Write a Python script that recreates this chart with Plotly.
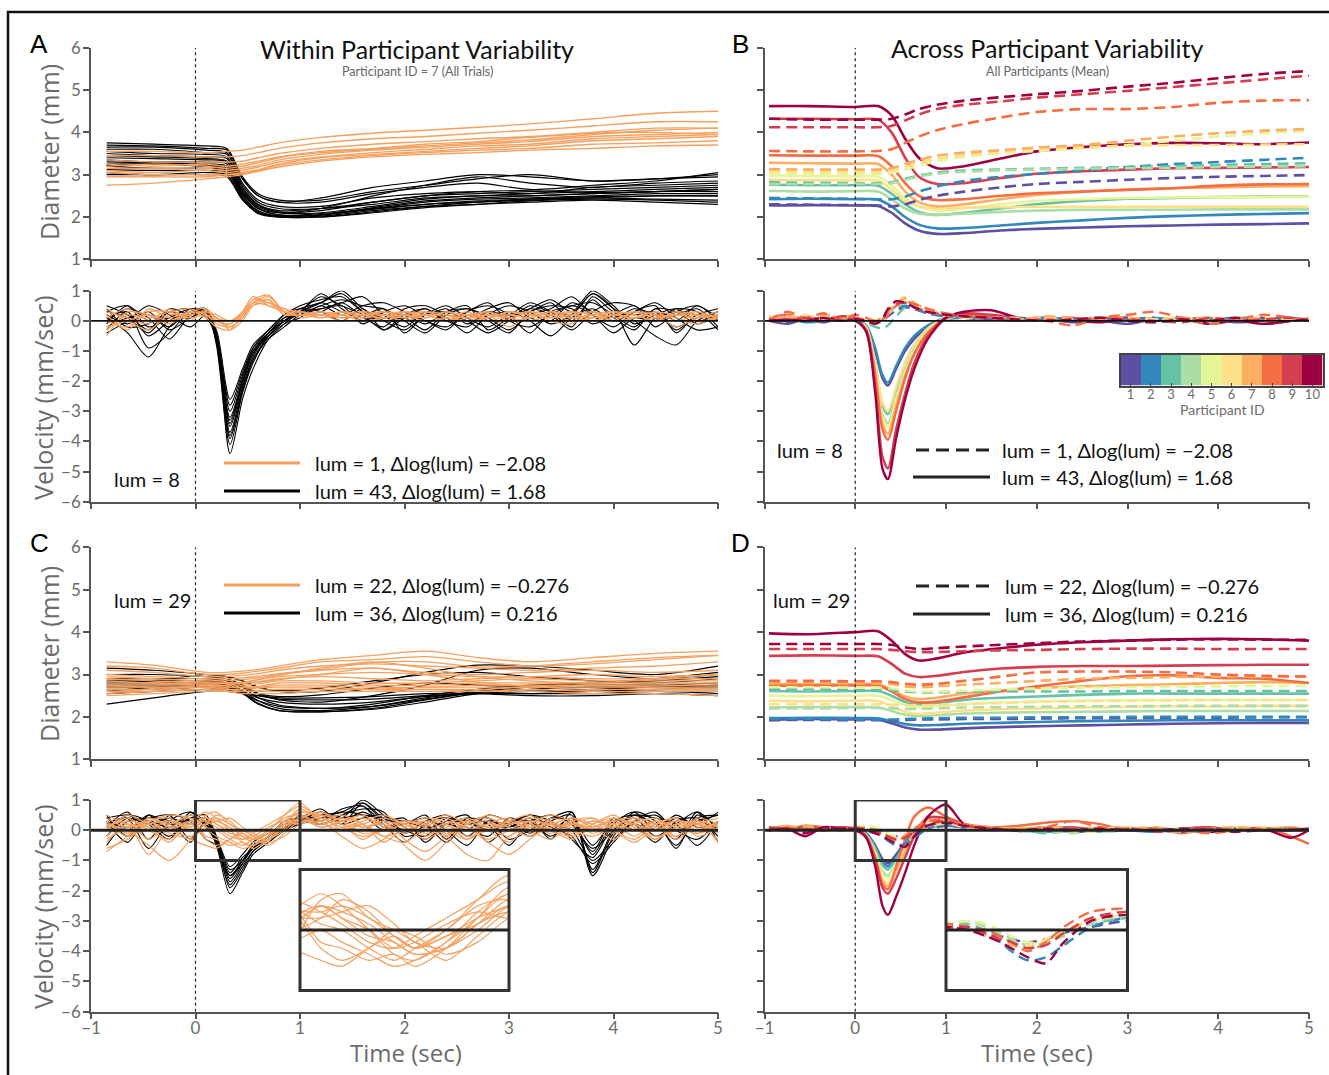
import plotly.graph_objects as go

W, H = 1329, 1075

# ---------------- data ----------------
TIME_TICKS = [-1, 0, 1, 2, 3, 4, 5]
DIAM_TICKS = [1, 2, 3, 4, 5, 6]
VEL_TICKS = [1, 0, -1, -2, -3, -4, -5, -6]
PARTICIPANT_IDS = [1, 2, 3, 4, 5, 6, 7, 8, 9, 10]
PARTICIPANT_COLORS = ['#5e4fa2', '#3288bd', '#66c2a5', '#abdda4', '#e6f598',
                      '#fee08b', '#fdae61', '#f46d43', '#d53e4f', '#9e0142']
ORANGE = '#F5A05F'
BLACK = '#000000'

# time samples (sec)
DIAM_T = [-0.85, -0.4, 0.1, 0.3, 0.45, 0.6, 0.8, 1.2, 1.7, 2.2, 2.7, 3.2, 3.8, 4.4, 5.0]
MEAN_T = [-0.95, -0.5, 0, 0.25, 0.4, 0.55, 0.7, 0.9, 1.2, 1.6, 2.0, 2.5, 3.0, 3.5, 4.0, 4.5, 5.0]
VEL_T = [-0.85, -0.65, -0.45, -0.25, -0.05,
         0.1, 0.2, 0.33, 0.45, 0.55, 0.7, 0.85, 1.0,
         1.2, 1.4, 1.6, 1.8, 2.0,
         2.2, 2.4, 2.6, 2.8, 3.0,
         3.2, 3.4, 3.6, 3.8, 4.0,
         4.2, 4.4, 4.6, 4.8, 5.0]
MVEL_T = [-0.95, -0.75, -0.55, -0.35, -0.15, 0,
          0.12, 0.22, 0.3, 0.36, 0.45, 0.55, 0.65, 0.8,
          1.0, 1.2, 1.5, 1.8, 2.1,
          2.4, 2.7, 3.0, 3.3, 3.6,
          3.9, 4.2, 4.5, 4.8, 5.0]

# ---- Panel A: participant 7, diameter (mm)
A_DIAM_BLACK = [
    [3.75, 3.72, 3.68, 3.62, 2.95, 2.55, 2.4, 2.4, 2.6, 2.75, 2.9, 3.0, 2.85, 2.9, 3.0],
    [3.7, 3.68, 3.62, 3.58, 2.9, 2.5, 2.35, 2.35, 2.55, 2.7, 2.8, 2.65, 2.75, 2.85, 3.05],
    [3.6, 3.6, 3.52, 3.48, 2.8, 2.4, 2.25, 2.25, 2.45, 2.55, 2.6, 2.55, 2.7, 2.75, 2.8],
    [3.55, 3.5, 3.48, 3.42, 2.75, 2.35, 2.2, 2.2, 2.35, 2.5, 2.55, 2.6, 2.65, 2.7, 2.75],
    [3.5, 3.45, 3.42, 3.38, 2.7, 2.3, 2.15, 2.2, 2.3, 2.45, 2.5, 2.55, 2.6, 2.65, 2.7],
    [3.45, 3.42, 3.38, 3.32, 2.65, 2.28, 2.12, 2.15, 2.35, 2.5, 2.6, 2.62, 2.58, 2.6, 2.65],
    [3.4, 3.38, 3.35, 3.3, 2.62, 2.25, 2.1, 2.1, 2.25, 2.42, 2.5, 2.5, 2.55, 2.6, 2.6],
    [3.35, 3.3, 3.3, 3.25, 2.6, 2.22, 2.05, 2.08, 2.2, 2.35, 2.42, 2.45, 2.5, 2.55, 2.55],
    [3.3, 3.28, 3.25, 3.2, 2.55, 2.2, 2.05, 2.05, 2.2, 2.3, 2.38, 2.42, 2.45, 2.5, 2.5],
    [3.25, 3.25, 3.2, 3.15, 2.5, 2.15, 2.02, 2.05, 2.18, 2.3, 2.35, 2.4, 2.45, 2.42, 2.4],
    [3.2, 3.15, 3.15, 3.1, 2.5, 2.12, 2.0, 2.02, 2.15, 2.25, 2.3, 2.35, 2.4, 2.35, 2.3],
    [3.12, 3.1, 3.1, 3.05, 2.45, 2.1, 2.0, 2.0, 2.1, 2.22, 2.3, 2.38, 2.42, 2.4, 2.35],
    [3.05, 3.0, 3.05, 3.0, 2.42, 2.08, 2.0, 2.0, 2.12, 2.25, 2.35, 2.42, 2.48, 2.5, 2.5],
    [3.0, 3.0, 3.0, 2.95, 2.4, 2.1, 2.02, 2.05, 2.22, 2.38, 2.45, 2.5, 2.55, 2.6, 2.65],
    [3.65, 3.65, 3.58, 3.52, 2.9, 2.5, 2.35, 2.45, 2.7, 2.85, 3.0, 2.95, 2.85, 2.9, 2.95],
    [3.22, 3.25, 3.2, 3.18, 2.55, 2.2, 2.1, 2.2, 2.5, 2.75, 2.95, 2.8, 2.7, 2.8, 2.85],
]
A_DIAM_ORANGE = [
    [3.55, 3.55, 3.52, 3.55, 3.58, 3.65, 3.75, 3.88, 3.98, 4.05, 4.12, 4.2, 4.32, 4.45, 4.5],
    [3.45, 3.45, 3.42, 3.42, 3.45, 3.52, 3.62, 3.75, 3.85, 3.9, 3.98, 4.05, 4.15, 4.25, 4.25],
    [3.35, 3.3, 3.3, 3.3, 3.32, 3.4, 3.5, 3.62, 3.72, 3.78, 3.85, 3.9, 4.0, 4.1, 4.1],
    [3.2, 3.25, 3.2, 3.15, 3.2, 3.28, 3.4, 3.52, 3.6, 3.68, 3.75, 3.82, 3.95, 4.05, 4.1],
    [3.15, 3.15, 3.15, 3.1, 3.15, 3.22, 3.35, 3.48, 3.58, 3.65, 3.72, 3.78, 3.9, 3.95, 4.0],
    [3.1, 3.05, 3.1, 3.05, 3.1, 3.18, 3.3, 3.42, 3.52, 3.6, 3.68, 3.72, 3.85, 3.9, 3.95],
    [3.05, 3.0, 3.0, 3.0, 3.05, 3.12, 3.25, 3.4, 3.48, 3.55, 3.62, 3.68, 3.8, 3.85, 3.9],
    [2.95, 2.95, 2.95, 3.0, 3.02, 3.1, 3.22, 3.35, 3.45, 3.52, 3.58, 3.62, 3.72, 3.75, 3.8],
    [2.75, 2.8, 2.9, 2.95, 3.0, 3.08, 3.18, 3.32, 3.42, 3.48, 3.52, 3.58, 3.62, 3.68, 3.7],
    [3.25, 3.2, 3.25, 3.2, 3.25, 3.32, 3.42, 3.55, 3.62, 3.72, 3.78, 3.88, 3.98, 4.0, 3.95],
]

# ---- Panel A: velocity (mm/sec)
A_VEL_BLACK = [
    [0.3, 0.5, -0.2, 0.1, 0.4, 0.3, -0.6, -4.4, -2.6, -1.6, -0.6, -0.1, 0.3, 0.8, 0.5, 0.2, -0.3, 0.2, 0.4, 0.0, -0.2, 0.3, 0.1, 0.5, 0.3, 0.2, 0.9, 0.4, -0.8, 0.1, 0.3, 0.2, 0.1],
    [0.1, -0.4, -1.2, -0.2, 0.3, 0.4, -0.8, -4.1, -2.4, -1.4, -0.5, 0.0, 0.4, 0.6, 0.9, 0.3, 0.0, -0.3, 0.2, 0.5, 0.1, -0.2, 0.2, 0.3, 0.6, 0.0, 0.7, 0.1, 0.4, 0.2, -0.2, 0.1, 0.3],
    [0.5, 0.2, -0.3, 0.4, 0.2, 0.3, -0.7, -3.9, -2.3, -1.3, -0.6, -0.2, 0.2, 0.5, 0.7, 0.5, 0.4, 0.0, -0.4, 0.2, 0.4, 0.1, -0.3, 0.2, 0.4, 0.8, 0.2, -0.2, 0.3, 0.5, -0.4, 0.2, 0.0],
    [-0.3, 0.3, -0.9, -0.4, 0.3, 0.2, -0.5, -3.7, -2.2, -1.2, -0.4, 0.1, 0.3, 0.9, 0.4, 0.0, 0.3, 0.2, 0.0, -0.3, 0.3, 0.5, 0.2, -0.4, 0.3, 0.5, 0.6, 0.2, -0.2, 0.4, 0.3, -0.1, 0.2],
    [0.2, -0.1, 0.3, -0.3, 0.1, 0.3, -0.6, -3.5, -2.1, -1.1, -0.5, 0.0, 0.2, 0.4, 0.6, 0.8, 0.2, -0.2, 0.3, 0.1, -0.4, 0.2, 0.5, 0.3, -0.1, 0.2, 0.9, 0.4, 0.0, -0.5, -0.8, 0.0, 0.3],
    [0.0, 0.4, 0.1, -0.6, 0.2, 0.4, -0.4, -3.4, -2.0, -1.0, -0.4, 0.1, 0.3, 0.6, 0.3, 0.1, -0.2, 0.4, 0.5, 0.2, 0.0, -0.4, 0.0, 0.4, 0.2, -0.3, 0.3, 0.6, 0.5, 0.1, 0.2, 0.4, -0.2],
    [-0.4, 0.0, 0.5, 0.2, -0.2, 0.2, -0.7, -3.2, -1.9, -0.9, -0.3, 0.2, 0.5, 0.7, 0.8, 0.3, 0.0, 0.1, -0.3, 0.3, 0.4, 0.2, 0.3, 0.0, -0.5, 0.1, 0.4, 0.0, 0.3, 0.6, 0.1, -0.3, -0.2],
    [0.4, -0.2, -0.1, 0.3, 0.4, 0.1, -0.5, -3.0, -1.8, -1.0, -0.5, -0.1, 0.1, 0.5, 0.2, 0.5, 0.6, 0.3, 0.0, -0.2, 0.2, 0.0, -0.4, 0.3, 0.5, 0.4, -0.1, 0.2, 0.5, -0.2, 0.3, 0.5, 0.1],
    [0.1, 0.3, -0.5, 0.0, 0.3, 0.3, -0.4, -2.8, -1.7, -0.9, -0.4, 0.0, 0.3, 0.4, 0.5, -0.1, 0.3, 0.5, 0.2, 0.4, -0.1, 0.3, 0.2, 0.6, 0.3, -0.2, 0.8, 0.3, 0.2, 0.3, -0.3, 0.2, 0.4],
    [-0.2, 0.1, 0.2, -0.2, 0.4, 0.2, -0.3, -2.6, -1.6, -0.8, -0.3, 0.2, 0.4, 0.3, 0.0, 0.4, -0.3, 0.1, 0.4, 0.0, 0.3, 0.6, 0.0, -0.2, 0.2, 0.5, 0.2, -0.4, 0.1, 0.0, 0.4, 0.3, -0.3],
    [0.3, 0.1, -0.4, 0.3, 0.1, 0.4, -0.6, -3.8, -2.3, -1.3, -0.5, 0.0, 0.3, 0.6, 1.0, 0.4, 0.1, 0.2, -0.1, 0.3, 0.5, -0.3, 0.1, 0.4, 0.7, 0.3, 1.0, 0.5, -0.1, 0.2, 0.4, 0.0, 0.2],
    [-0.1, 0.5, 0.0, 0.1, 0.2, 0.3, -0.5, -3.3, -2.0, -1.1, -0.4, 0.0, 0.2, 0.3, 0.6, 0.2, 0.4, -0.4, 0.2, 0.3, 0.1, 0.4, 0.6, 0.1, 0.0, 0.6, 0.3, 0.1, -0.3, 0.4, 0.0, 0.5, 0.0],
]
A_VEL_ORANGE = [
    [0.2, -0.3, 0.4, 0.1, 0.3, 0.1, -0.2, -0.3, 0.2, 0.7, 0.6, 0.3, 0.2, 0.3, 0.1, 0.2, 0.3, 0.1, 0.2, 0.0, 0.2, 0.1, 0.3, 0.2, 0.1, 0.3, 0.2, 0.0, 0.3, 0.1, 0.2, 0.1, 0.2],
    [-0.3, 0.2, 0.1, 0.3, 0.4, 0.2, 0.0, -0.1, 0.3, 0.8, 0.5, 0.3, 0.3, 0.2, 0.3, 0.1, 0.2, 0.3, 0.1, 0.3, 0.2, 0.3, 0.0, 0.1, 0.3, 0.2, 0.1, 0.2, 0.1, 0.3, 0.0, 0.2, 0.1],
    [0.4, 0.0, -0.3, 0.2, 0.2, 0.3, 0.1, -0.2, 0.1, 0.6, 0.7, 0.2, 0.2, 0.1, 0.2, 0.3, 0.0, 0.2, 0.3, 0.1, 0.0, 0.2, 0.2, 0.3, 0.0, -0.1, 0.3, 0.1, 0.2, 0.0, 0.3, 0.2, 0.0],
    [-0.5, 0.3, 0.2, -0.1, 0.3, 0.4, 0.0, -0.1, 0.2, 0.5, 0.6, 0.4, 0.3, 0.2, 0.1, 0.2, 0.2, 0.0, 0.2, 0.2, 0.1, 0.3, 0.1, 0.0, 0.2, 0.3, 0.0, 0.2, 0.3, 0.2, -0.2, 0.1, 0.3],
    [0.1, 0.4, 0.0, 0.0, 0.2, 0.3, 0.2, 0.0, 0.3, 0.7, 0.85, 0.3, 0.2, 0.3, 0.2, 0.1, 0.3, 0.2, 0.0, 0.1, 0.3, 0.0, 0.2, 0.1, 0.3, 0.1, 0.2, 0.3, 0.0, 0.1, 0.2, 0.3, 0.1],
    [0.0, -0.2, 0.3, 0.3, 0.1, 0.2, 0.1, -0.3, 0.0, 0.5, 0.7, 0.2, 0.3, 0.1, 0.3, 0.2, 0.1, 0.3, 0.2, 0.0, 0.2, 0.2, -0.2, 0.2, 0.1, 0.2, 0.3, 0.0, 0.1, 0.2, 0.1, -0.1, 0.2],
    [0.3, 0.1, -0.1, 0.4, 0.0, 0.4, 0.1, 0.0, 0.2, 0.6, 0.5, 0.4, 0.1, 0.2, 0.0, 0.3, 0.2, 0.1, 0.3, 0.2, 0.0, 0.1, 0.3, 0.2, 0.2, 0.0, 0.1, 0.3, 0.2, 0.0, 0.3, 0.0, 0.1],
    [-0.2, 0.0, 0.2, 0.0, 0.3, 0.2, -0.1, -0.2, 0.1, 0.6, 0.8, 0.3, 0.2, 0.2, 0.2, 0.0, 0.1, 0.2, 0.1, 0.3, 0.1, 0.2, 0.1, 0.3, 0.2, 0.1, 0.0, 0.2, 0.1, 0.3, 0.2, 0.2, 0.0],
]

# ---- Panel B: participant means, diameter (index = participant ID - 1)
B_DIAM_SOLID = [
    [2.27, 2.28, 2.27, 2.26, 2.1, 1.85, 1.68, 1.6, 1.62, 1.68, 1.72, 1.75, 1.78, 1.8, 1.82, 1.83, 1.85],
    [2.42, 2.43, 2.42, 2.41, 2.25, 2.0, 1.82, 1.73, 1.74, 1.8, 1.86, 1.92, 1.98, 2.02, 2.05, 2.07, 2.09],
    [2.76, 2.75, 2.75, 2.74, 2.55, 2.3, 2.12, 2.05, 2.1, 2.2, 2.3, 2.38, 2.43, 2.45, 2.47, 2.48, 2.49],
    [2.62, 2.6, 2.61, 2.6, 2.42, 2.2, 2.08, 2.05, 2.08, 2.12, 2.15, 2.17, 2.17, 2.17, 2.18, 2.18, 2.18],
    [2.98, 2.97, 2.96, 2.95, 2.75, 2.45, 2.25, 2.15, 2.2, 2.3, 2.38, 2.42, 2.45, 2.46, 2.47, 2.47, 2.48],
    [2.88, 2.87, 2.87, 2.86, 2.65, 2.38, 2.25, 2.2, 2.22, 2.23, 2.24, 2.24, 2.24, 2.24, 2.24, 2.24, 2.24],
    [3.28, 3.27, 3.26, 3.25, 3.0, 2.6, 2.35, 2.25, 2.3, 2.42, 2.52, 2.6, 2.65, 2.68, 2.7, 2.72, 2.73],
    [3.46, 3.45, 3.45, 3.44, 3.2, 2.8, 2.5, 2.4, 2.42, 2.5, 2.56, 2.6, 2.64, 2.68, 2.74, 2.77, 2.78],
    [4.32, 4.32, 4.31, 4.3, 4.0, 3.4, 2.95, 2.78, 2.8, 2.92, 3.02, 3.08, 3.12, 3.15, 3.16, 3.17, 3.18],
    [4.62, 4.62, 4.6, 4.62, 4.4, 3.85, 3.4, 3.15, 3.2, 3.38, 3.55, 3.65, 3.72, 3.75, 3.74, 3.72, 3.76],
]
B_DIAM_DASHED = [
    [2.3, 2.29, 2.28, 2.27, 2.25, 2.3, 2.4, 2.5, 2.6, 2.7, 2.78, 2.83, 2.88, 2.92, 2.95, 2.97, 2.99],
    [2.45, 2.44, 2.43, 2.42, 2.42, 2.48, 2.6, 2.72, 2.85, 2.95, 3.02, 3.1, 3.18, 3.25, 3.3, 3.35, 3.4],
    [2.82, 2.81, 2.8, 2.8, 2.82, 2.9, 2.98, 3.05, 3.1, 3.12, 3.14, 3.16, 3.18, 3.2, 3.23, 3.25, 3.27],
    [2.78, 2.78, 2.78, 2.78, 2.8, 2.88, 2.96, 3.02, 3.07, 3.1, 3.12, 3.14, 3.15, 3.16, 3.18, 3.19, 3.2],
    [3.03, 3.02, 3.02, 3.02, 3.05, 3.12, 3.22, 3.32, 3.42, 3.5, 3.56, 3.62, 3.7, 3.8, 3.9, 3.98, 4.03],
    [3.08, 3.07, 3.07, 3.07, 3.1, 3.18, 3.28, 3.38, 3.46, 3.55, 3.6, 3.65, 3.68, 3.7, 3.7, 3.71, 3.72],
    [3.13, 3.12, 3.12, 3.12, 3.15, 3.25, 3.35, 3.45, 3.52, 3.58, 3.64, 3.7, 3.8, 3.9, 3.98, 4.04, 4.08],
    [3.56, 3.55, 3.55, 3.56, 3.6, 3.75, 3.9, 4.05, 4.2, 4.35, 4.48, 4.55, 4.55, 4.6, 4.7, 4.75, 4.76],
    [4.12, 4.12, 4.12, 4.12, 4.15, 4.28, 4.42, 4.55, 4.65, 4.73, 4.82, 4.9, 4.98, 5.07, 5.16, 5.25, 5.34],
    [4.32, 4.3, 4.3, 4.3, 4.32, 4.42, 4.55, 4.65, 4.75, 4.83, 4.9, 4.98, 5.08, 5.17, 5.28, 5.38, 5.45],
]

# ---- Panel B: participant means, velocity
B_VEL_SOLID = [
    [0.0, -0.1, 0.05, -0.05, 0.1, 0.0, -0.2, -1.0, -1.9, -2.15, -1.6, -1.0, -0.6, -0.2, 0.05, 0.1, 0.05, 0.0, 0.05, -0.05, 0.0, -0.1, 0.05, 0.0, 0.05, -0.05, 0.0, 0.05, 0.0],
    [0.05, 0.1, -0.05, 0.0, 0.05, 0.05, -0.15, -0.9, -1.8, -2.05, -1.5, -0.9, -0.5, -0.15, 0.1, 0.1, 0.05, 0.1, 0.0, 0.05, 0.1, 0.0, 0.1, 0.0, 0.05, 0.0, 0.05, 0.1, 0.05],
    [0.1, 0.0, 0.05, 0.1, 0.0, 0.05, -0.2, -1.4, -2.8, -3.1, -2.3, -1.4, -0.8, -0.25, 0.05, 0.15, 0.1, 0.05, 0.1, 0.0, 0.05, 0.1, 0.0, 0.05, 0.0, 0.1, 0.05, 0.0, 0.05],
    [0.0, 0.05, 0.1, 0.0, 0.05, 0.0, -0.25, -1.5, -3.1, -3.4, -2.5, -1.6, -0.9, -0.3, 0.05, 0.15, 0.1, 0.05, 0.0, 0.05, 0.1, 0.0, 0.05, 0.1, 0.0, 0.05, 0.0, 0.05, 0.0],
    [0.1, 0.05, 0.0, 0.05, 0.1, 0.05, -0.25, -1.6, -3.2, -3.55, -2.6, -1.7, -1.0, -0.35, 0.05, 0.2, 0.1, 0.1, 0.05, 0.0, 0.1, 0.05, 0.0, 0.05, 0.1, 0.0, 0.05, 0.0, 0.1],
    [0.05, 0.0, 0.1, 0.05, 0.0, 0.1, -0.2, -1.4, -2.7, -3.0, -2.2, -1.4, -0.8, -0.25, 0.1, 0.15, 0.1, 0.05, 0.1, 0.05, 0.0, 0.1, 0.05, 0.0, 0.1, 0.05, 0.0, 0.05, 0.0],
    [0.0, 0.1, 0.05, 0.0, 0.1, 0.05, -0.3, -1.7, -3.4, -3.75, -2.8, -1.8, -1.1, -0.4, 0.05, 0.2, 0.15, 0.1, 0.05, 0.1, 0.0, 0.05, 0.1, 0.05, 0.0, 0.05, 0.1, 0.0, 0.05],
    [0.1, 0.2, 0.05, 0.0, 0.15, 0.05, -0.3, -1.8, -3.6, -3.95, -3.0, -1.9, -1.1, -0.4, 0.1, 0.2, 0.15, 0.05, 0.1, 0.0, 0.05, 0.1, 0.0, 0.05, 0.1, 0.0, 0.05, 0.1, 0.0],
    [0.05, 0.0, 0.1, 0.05, 0.0, 0.05, -0.35, -2.2, -4.5, -4.9, -3.6, -2.4, -1.4, -0.5, 0.1, 0.25, 0.2, 0.1, 0.05, 0.1, 0.0, 0.05, 0.0, 0.1, 0.0, 0.05, 0.0, 0.05, 0.0],
    [0.0, 0.05, 0.0, 0.1, 0.05, 0.0, -0.35, -2.4, -4.9, -5.25, -3.9, -2.6, -1.6, -0.6, 0.1, 0.3, 0.35, 0.1, 0.05, 0.0, -0.05, 0.05, 0.0, 0.05, -0.1, 0.0, -0.1, 0.0, 0.05],
]
B_VEL_DASHED = [
    [0.05, -0.05, 0.1, 0.0, 0.05, 0.0, -0.05, -0.1, 0.0, 0.15, 0.35, 0.45, 0.4, 0.25, 0.15, 0.1, 0.05, 0.1, 0.05, 0.0, 0.05, 0.1, 0.0, 0.05, 0.0, 0.05, 0.1, 0.05, 0.0],
    [0.0, 0.05, 0.0, 0.1, 0.05, 0.1, 0.0, -0.05, 0.1, 0.3, 0.45, 0.5, 0.4, 0.25, 0.15, 0.1, 0.1, 0.05, 0.1, 0.05, 0.0, 0.05, 0.1, 0.0, 0.05, 0.1, 0.0, 0.05, 0.05],
    [0.05, 0.1, 0.05, 0.0, 0.1, 0.05, -0.05, -0.2, -0.25, -0.15, 0.15, 0.45, 0.55, 0.35, 0.2, 0.15, 0.1, 0.05, 0.0, 0.1, 0.05, 0.0, 0.05, 0.1, 0.0, 0.05, 0.0, 0.1, 0.05],
    [0.1, 0.05, 0.15, 0.05, 0.1, 0.05, 0.0, -0.1, 0.0, 0.2, 0.45, 0.6, 0.5, 0.3, 0.2, 0.1, 0.1, 0.05, 0.1, 0.0, 0.1, 0.05, 0.0, 0.05, 0.1, 0.0, 0.05, 0.0, 0.1],
    [0.15, 0.1, 0.05, 0.1, 0.15, 0.1, 0.0, -0.05, 0.1, 0.3, 0.55, 0.7, 0.55, 0.3, 0.2, 0.15, 0.1, 0.05, 0.1, 0.05, 0.1, 0.0, 0.05, 0.1, 0.05, 0.0, 0.1, 0.05, 0.1],
    [0.05, 0.1, 0.2, 0.05, 0.1, 0.05, 0.0, 0.0, 0.15, 0.35, 0.6, 0.8, 0.6, 0.35, 0.2, 0.1, 0.1, 0.1, 0.05, 0.0, 0.05, 0.1, 0.05, 0.0, 0.1, 0.05, 0.0, 0.05, 0.0],
    [0.1, 0.15, 0.05, 0.2, 0.1, 0.1, 0.05, 0.0, 0.1, 0.3, 0.55, 0.75, 0.6, 0.35, 0.25, 0.15, 0.1, 0.05, 0.15, 0.1, 0.05, 0.1, 0.0, 0.1, 0.05, 0.1, 0.05, 0.0, 0.1],
    [0.0, 0.3, 0.1, 0.25, 0.05, 0.2, 0.1, 0.0, 0.05, 0.2, 0.5, 0.65, 0.55, 0.4, 0.25, 0.15, 0.1, 0.05, 0.0, -0.15, 0.1, 0.2, 0.3, 0.1, -0.1, 0.05, 0.2, 0.1, 0.0],
    [0.05, 0.0, 0.1, 0.0, 0.15, 0.1, 0.0, -0.05, 0.1, 0.35, 0.55, 0.6, 0.45, 0.3, 0.2, 0.15, 0.1, 0.0, 0.05, 0.0, 0.1, 0.05, 0.0, -0.05, 0.1, 0.0, 0.05, 0.1, 0.0],
    [0.0, 0.05, 0.0, 0.1, 0.0, 0.05, 0.0, -0.1, 0.05, 0.4, 0.65, 0.6, 0.45, 0.3, 0.2, 0.15, 0.1, 0.05, 0.0, 0.05, 0.1, 0.0, -0.05, 0.05, 0.0, 0.1, -0.1, 0.0, 0.05],
]

# ---- Panel C: participant 7, diameter
C_DIAM_BLACK = [
    [3.15, 3.1, 3.0, 2.95, 2.85, 2.7, 2.6, 2.6, 2.8, 3.05, 3.22, 3.2, 3.1, 3.0, 3.2],
    [3.0, 3.0, 2.95, 2.9, 2.75, 2.55, 2.4, 2.35, 2.5, 2.75, 3.1, 3.15, 3.0, 2.9, 3.0],
    [2.9, 2.9, 2.9, 2.85, 2.7, 2.45, 2.28, 2.2, 2.3, 2.5, 2.65, 2.75, 2.8, 2.85, 2.95],
    [2.85, 2.85, 2.85, 2.8, 2.62, 2.38, 2.2, 2.15, 2.25, 2.45, 2.6, 2.7, 2.75, 2.75, 2.8],
    [2.8, 2.8, 2.8, 2.75, 2.58, 2.32, 2.15, 2.12, 2.2, 2.4, 2.58, 2.65, 2.7, 2.7, 2.75],
    [2.75, 2.75, 2.75, 2.7, 2.55, 2.3, 2.15, 2.12, 2.18, 2.35, 2.55, 2.6, 2.65, 2.7, 2.7],
    [2.7, 2.7, 2.7, 2.65, 2.55, 2.38, 2.25, 2.2, 2.25, 2.42, 2.58, 2.6, 2.6, 2.65, 2.65],
    [2.65, 2.65, 2.7, 2.7, 2.6, 2.45, 2.35, 2.3, 2.35, 2.48, 2.55, 2.55, 2.6, 2.6, 2.6],
    [2.55, 2.6, 2.65, 2.65, 2.58, 2.5, 2.42, 2.4, 2.42, 2.5, 2.55, 2.55, 2.55, 2.6, 2.55],
    [2.3, 2.45, 2.6, 2.6, 2.56, 2.5, 2.45, 2.45, 2.48, 2.55, 2.55, 2.5, 2.5, 2.55, 2.5],
    [2.8, 2.85, 3.0, 2.95, 2.85, 2.7, 2.62, 2.68, 2.85, 3.0, 3.05, 2.95, 2.85, 2.8, 2.9],
    [2.6, 2.7, 2.8, 2.8, 2.7, 2.55, 2.48, 2.52, 2.68, 2.8, 2.75, 2.7, 2.8, 2.9, 3.05],
]
C_DIAM_ORANGE = [
    [3.3, 3.22, 3.05, 3.05, 3.08, 3.12, 3.2, 3.35, 3.45, 3.55, 3.4, 3.3, 3.4, 3.5, 3.55],
    [3.2, 3.15, 3.0, 3.0, 3.03, 3.08, 3.15, 3.3, 3.35, 3.42, 3.3, 3.2, 3.25, 3.35, 3.45],
    [3.1, 3.05, 2.95, 2.95, 2.98, 3.02, 3.1, 3.2, 3.25, 3.2, 3.15, 3.1, 3.15, 3.2, 3.3],
    [2.95, 2.9, 2.85, 2.85, 2.88, 2.92, 3.0, 3.1, 3.15, 3.05, 3.0, 3.05, 3.1, 3.05, 3.1],
    [2.9, 2.85, 2.8, 2.8, 2.82, 2.88, 2.95, 3.0, 3.05, 3.0, 2.95, 2.95, 3.0, 2.95, 3.0],
    [2.85, 2.8, 2.8, 2.8, 2.8, 2.83, 2.9, 2.95, 2.9, 2.85, 2.9, 2.95, 2.9, 2.9, 2.9],
    [2.8, 2.8, 2.75, 2.75, 2.75, 2.78, 2.85, 2.85, 2.8, 2.8, 2.85, 2.9, 2.85, 2.85, 2.85],
    [2.75, 2.75, 2.75, 2.7, 2.7, 2.72, 2.8, 2.8, 2.75, 2.75, 2.8, 2.8, 2.8, 2.8, 2.8],
    [2.7, 2.7, 2.7, 2.7, 2.7, 2.7, 2.75, 2.75, 2.7, 2.7, 2.75, 2.75, 2.75, 2.75, 2.75],
    [2.65, 2.65, 2.7, 2.65, 2.65, 2.68, 2.7, 2.7, 2.65, 2.7, 2.7, 2.7, 2.7, 2.7, 2.7],
    [2.6, 2.6, 2.65, 2.65, 2.6, 2.62, 2.65, 2.65, 2.65, 2.65, 2.65, 2.7, 2.65, 2.65, 2.65],
    [2.55, 2.6, 2.65, 2.6, 2.6, 2.6, 2.6, 2.6, 2.6, 2.65, 2.6, 2.65, 2.6, 2.6, 2.6],
    [2.5, 2.55, 2.6, 2.6, 2.55, 2.55, 2.55, 2.6, 2.6, 2.6, 2.6, 2.6, 2.55, 2.55, 2.5],
    [2.75, 2.7, 2.7, 2.75, 2.8, 2.88, 2.98, 3.15, 3.3, 3.15, 2.95, 2.85, 2.8, 2.9, 3.0],
    [2.6, 2.65, 2.75, 2.8, 2.8, 2.82, 2.88, 3.0, 3.15, 3.0, 2.82, 2.72, 2.75, 2.7, 2.65],
    [3.0, 2.95, 2.9, 2.9, 2.92, 2.96, 3.02, 3.12, 3.28, 3.3, 3.18, 3.2, 3.3, 3.4, 3.45],
]

# ---- Panel C: velocity
C_VEL_BLACK = [
    [0.4, 0.5, 0.2, -0.3, 0.6, 0.2, -0.5, -2.1, -1.4, -0.8, -0.4, 0.0, 0.3, 0.6, 0.4, 1.0, 0.5, 0.1, -0.3, 0.2, 0.3, 0.0, 0.2, -0.2, 0.3, 0.5, -1.5, -0.2, 0.6, 0.3, -0.5, 0.4, 0.5],
    [0.3, -0.4, 0.5, 0.2, 0.3, 0.4, -0.4, -1.8, -1.2, -0.7, -0.3, 0.1, 0.4, 0.3, 0.7, 0.8, 0.2, -0.4, 0.2, 0.4, -0.2, 0.3, 0.1, 0.4, -0.3, 0.6, -1.3, 0.0, 0.4, -0.2, 0.2, 0.6, -0.4],
    [-0.5, 0.3, 0.4, 0.5, -0.3, 0.3, -0.3, -1.6, -1.0, -0.6, -0.2, 0.2, 0.3, 0.6, 0.2, 0.9, 0.4, 0.2, 0.5, -0.3, 0.4, 0.2, -0.5, 0.3, 0.2, 0.0, -1.0, -0.3, 0.3, 0.5, 0.0, -0.3, 0.3],
    [0.2, 0.4, -0.6, 0.3, 0.6, 0.1, -0.4, -1.5, -1.1, -0.5, -0.3, 0.0, 0.5, 0.2, 0.5, 0.7, 0.6, -0.2, 0.0, 0.3, 0.5, -0.4, 0.2, 0.5, 0.3, -0.3, -0.9, 0.2, 0.6, 0.0, 0.4, 0.2, 0.6],
    [0.0, 0.5, 0.3, -0.2, 0.4, 0.5, -0.2, -1.4, -0.9, -0.6, -0.2, 0.1, 0.2, 0.5, 0.3, 0.6, 0.3, 0.4, -0.4, 0.2, 0.0, 0.5, 0.3, -0.1, 0.4, 0.3, -0.7, 0.4, 0.0, 0.3, -0.6, 0.5, 0.1],
    [0.3, 0.1, 0.4, 0.3, -0.4, 0.3, -0.3, -1.3, -1.0, -0.5, -0.2, 0.3, 0.4, 0.4, 0.6, 0.5, 0.0, 0.3, 0.2, -0.4, 0.3, 0.4, 0.0, 0.3, 0.5, 0.2, -0.6, 0.0, 0.5, 0.4, 0.2, -0.5, 0.3],
    [-0.2, 0.4, 0.2, 0.4, 0.2, 0.4, -0.2, -1.2, -0.8, -0.4, -0.1, 0.2, 0.4, 0.7, 0.2, 0.4, 0.5, -0.1, 0.3, 0.5, 0.1, -0.2, 0.4, 0.2, 0.0, 0.4, -0.5, 0.3, 0.2, -0.4, 0.3, 0.4, -0.2],
    [0.5, -0.2, 0.3, 0.1, 0.5, 0.2, -0.3, -1.7, -1.1, -0.6, -0.3, 0.0, 0.2, 0.4, 0.5, 0.8, 0.1, 0.2, 0.4, 0.0, -0.5, 0.3, 0.2, 0.5, 0.1, -0.2, -1.1, -0.4, 0.3, 0.6, 0.0, 0.3, 0.5],
    [0.1, 0.6, -0.3, 0.5, 0.3, -0.3, -0.5, -1.9, -1.3, -0.7, -0.3, 0.1, 0.3, 0.5, 0.6, 0.9, 0.3, 0.0, -0.2, 0.4, 0.2, 0.3, -0.3, 0.0, 0.4, 0.6, -1.4, -0.1, 0.2, 0.0, 0.5, 0.1, 0.2],
    [0.4, 0.0, 0.5, 0.0, 0.4, 0.3, -0.4, -1.5, -1.0, -0.6, -0.2, 0.1, 0.3, 0.2, 0.4, 0.5, 0.4, 0.3, 0.1, 0.2, 0.4, 0.0, 0.3, 0.3, -0.2, 0.3, -0.8, 0.3, 0.5, 0.2, -0.3, 0.6, 0.0],
]
C_VEL_ORANGE = [
    [0.3, -0.2, 0.4, 0.2, 0.5, 0.3, 0.1, -0.2, -0.3, -0.1, 0.2, 0.5, 0.8, 0.4, 0.2, -0.3, 0.1, 0.3, -0.2, 0.2, 0.4, 0.1, -0.2, 0.3, 0.2, 0.4, 0.1, -0.3, 0.2, 0.4, 0.0, 0.3, 0.1],
    [-0.4, 0.2, -0.8, 0.1, 0.3, 0.6, 0.4, 0.0, -0.4, -0.5, -0.2, 0.3, 0.6, 0.5, 0.0, 0.2, -0.4, 0.1, 0.3, 0.0, -0.3, 0.2, 0.4, 0.0, 0.3, -0.2, 0.2, 0.5, 0.1, -0.3, 0.2, 0.0, 0.3],
    [0.1, 0.4, 0.0, -0.3, 0.2, 0.4, 0.2, -0.1, -0.2, -0.4, -0.3, 0.1, 0.5, 0.2, 0.4, 0.1, 0.2, -0.5, -1.0, -0.4, 0.2, 0.3, 0.0, 0.2, -0.1, 0.3, 0.4, 0.0, -0.3, 0.2, 0.4, -0.2, 0.1],
    [-0.6, -0.3, 0.3, 0.4, 0.0, 0.2, 0.5, 0.3, -0.1, -0.3, -0.1, 0.2, 0.4, 0.6, 0.3, -0.1, 0.0, 0.2, 0.4, 0.3, 0.1, -0.4, -0.8, -0.3, 0.2, 0.1, 0.3, 0.2, 0.0, 0.3, -0.2, 0.4, 0.2],
    [0.2, 0.0, -0.5, -1.0, -0.3, 0.5, 0.6, 0.2, 0.0, -0.2, -0.5, -0.1, 0.3, 0.3, 0.5, 0.2, -0.2, 0.0, 0.2, 0.5, 0.2, 0.0, 0.3, 0.5, 0.0, -0.3, 0.1, 0.3, 0.4, 0.0, 0.2, 0.3, -0.4],
    [0.0, 0.5, 0.2, 0.0, -0.2, 0.0, -0.2, -0.4, -0.6, -0.5, -0.2, 0.2, 0.7, 0.3, -0.2, -0.6, -0.3, 0.3, 0.1, -0.2, 0.3, 0.4, 0.1, -0.2, 0.4, 0.2, 0.0, 0.2, -0.2, 0.3, 0.1, -0.1, 0.3],
    [0.4, 0.1, 0.3, 0.5, 0.4, 0.1, 0.0, -0.3, -0.5, -0.3, 0.0, 0.4, 0.5, 0.1, 0.3, 0.4, 0.2, -0.1, 0.2, -0.2, -0.8, -1.0, -0.2, 0.1, 0.2, 0.4, 0.2, -0.1, 0.3, 0.1, 0.3, 0.2, 0.0],
    [-0.2, 0.3, 0.1, -0.4, 0.3, -0.3, -0.5, -0.3, 0.0, -0.1, -0.4, -0.2, 0.2, 0.4, 0.1, 0.3, 0.5, 0.2, 0.0, 0.2, -0.3, 0.1, 0.2, 0.4, 0.3, 0.0, -0.2, 0.1, 0.4, 0.2, -0.3, 0.2, 0.4],
    [0.3, -0.1, 0.2, 0.3, 0.1, 0.4, 0.3, 0.1, -0.2, -0.4, -0.3, 0.0, 0.4, 0.6, 0.2, 0.0, 0.3, 0.1, -0.3, 0.1, 0.3, 0.0, -0.4, 0.2, 0.5, 0.3, 0.0, 0.4, 0.1, -0.2, 0.0, 0.3, -0.1],
    [-0.7, -0.2, 0.4, 0.1, 0.2, 0.2, 0.3, 0.4, 0.1, -0.2, -0.3, 0.1, 0.3, 0.2, 0.4, 0.2, -0.2, -0.4, 0.1, 0.4, 0.0, 0.2, 0.1, -0.2, 0.1, 0.2, 0.4, 0.0, -0.4, 0.1, 0.3, 0.1, 0.2],
    [0.1, 0.3, -0.3, 0.2, 0.4, -0.2, -0.3, -0.5, -0.4, -0.6, -0.3, 0.2, 0.6, 0.4, 0.1, -0.2, 0.0, 0.3, 0.2, -0.1, 0.1, -0.3, 0.0, 0.3, 0.2, -0.1, 0.3, 0.1, 0.2, -0.3, 0.1, 0.2, 0.0],
    [0.2, -0.1, 0.0, 0.3, 0.1, 0.4, 0.2, 0.0, -0.3, -0.2, 0.1, 0.3, 0.2, 0.5, 0.3, 0.1, 0.3, -0.3, -0.7, -0.2, 0.3, 0.1, 0.3, 0.0, -0.3, 0.2, 0.1, 0.3, 0.0, 0.2, 0.4, -0.1, 0.2],
    [-0.3, 0.1, 0.3, -0.1, -0.3, -0.5, -0.6, -0.3, -0.1, -0.3, -0.1, 0.1, 0.4, 0.1, 0.3, 0.5, 0.1, 0.0, 0.3, 0.2, -0.2, 0.0, 0.2, 0.3, 0.0, 0.3, -0.1, 0.2, 0.3, 0.1, -0.2, 0.3, 0.1],
    [0.5, 0.2, 0.1, 0.0, 0.3, 0.3, 0.4, 0.2, -0.1, -0.3, 0.0, 0.5, 0.9, 0.3, 0.0, 0.2, 0.4, 0.2, -0.1, 0.0, 0.2, 0.5, 0.3, 0.1, 0.0, -0.2, 0.2, 0.4, 0.2, 0.0, 0.3, 0.2, -0.3],
]

# ---- Panel D: participant means, diameter
D_DIAM_SOLID = [
    [1.93, 1.95, 1.94, 1.94, 1.85, 1.75, 1.7, 1.7, 1.73, 1.76, 1.78, 1.8, 1.82, 1.84, 1.85, 1.86, 1.86],
    [1.97, 1.98, 1.97, 1.97, 1.9, 1.83, 1.8, 1.81, 1.84, 1.86, 1.88, 1.9, 1.91, 1.92, 1.92, 1.92, 1.92],
    [2.61, 2.6, 2.61, 2.61, 2.5, 2.35, 2.3, 2.33, 2.4, 2.45, 2.48, 2.52, 2.55, 2.55, 2.55, 2.55, 2.55],
    [2.22, 2.23, 2.23, 2.22, 2.14, 2.05, 2.02, 2.04, 2.08, 2.1, 2.11, 2.12, 2.13, 2.14, 2.14, 2.14, 2.14],
    [2.5, 2.49, 2.5, 2.5, 2.4, 2.28, 2.23, 2.25, 2.3, 2.34, 2.36, 2.38, 2.39, 2.4, 2.4, 2.4, 2.4],
    [2.38, 2.37, 2.38, 2.38, 2.25, 2.12, 2.07, 2.1, 2.15, 2.18, 2.2, 2.22, 2.24, 2.25, 2.25, 2.26, 2.26],
    [2.78, 2.77, 2.77, 2.77, 2.65, 2.48, 2.42, 2.45, 2.55, 2.62, 2.68, 2.72, 2.75, 2.77, 2.8, 2.82, 2.8],
    [2.73, 2.74, 2.74, 2.74, 2.6, 2.42, 2.34, 2.36, 2.46, 2.6, 2.72, 2.85, 2.96, 2.98, 2.92, 2.9, 2.8],
    [3.44, 3.45, 3.44, 3.43, 3.25, 3.02, 2.94, 2.97, 3.06, 3.14, 3.18, 3.2, 3.2, 3.21, 3.22, 3.23, 3.23],
    [3.97, 3.95, 4.0, 4.02, 3.8, 3.48, 3.33, 3.38, 3.52, 3.62, 3.7, 3.76, 3.8, 3.83, 3.84, 3.83, 3.8],
]
D_DIAM_DASHED = [
    [1.92, 1.93, 1.92, 1.92, 1.92, 1.93, 1.94, 1.94, 1.95, 1.95, 1.96, 1.97, 1.97, 1.98, 1.98, 1.99, 1.99],
    [1.95, 1.95, 1.94, 1.94, 1.94, 1.95, 1.96, 1.97, 1.98, 1.98, 1.99, 1.99, 2.0, 2.0, 2.0, 2.0, 2.0],
    [2.66, 2.66, 2.65, 2.65, 2.63, 2.6, 2.58, 2.58, 2.59, 2.6, 2.6, 2.6, 2.61, 2.61, 2.61, 2.61, 2.61],
    [2.2, 2.2, 2.21, 2.21, 2.2, 2.19, 2.19, 2.2, 2.22, 2.23, 2.24, 2.25, 2.25, 2.26, 2.26, 2.26, 2.26],
    [2.7, 2.7, 2.69, 2.69, 2.67, 2.63, 2.6, 2.6, 2.62, 2.65, 2.67, 2.69, 2.7, 2.71, 2.72, 2.73, 2.73],
    [2.3, 2.3, 2.3, 2.3, 2.29, 2.28, 2.27, 2.28, 2.3, 2.33, 2.35, 2.37, 2.38, 2.39, 2.4, 2.4, 2.4],
    [2.8, 2.8, 2.79, 2.79, 2.77, 2.72, 2.7, 2.72, 2.76, 2.8, 2.85, 2.9, 2.92, 2.94, 2.95, 2.95, 2.95],
    [2.85, 2.85, 2.84, 2.84, 2.82, 2.78, 2.76, 2.78, 2.85, 2.95, 3.05, 3.07, 3.07, 3.05, 3.0, 2.97, 2.95],
    [3.6, 3.6, 3.6, 3.6, 3.58, 3.55, 3.53, 3.53, 3.55, 3.57, 3.58, 3.6, 3.61, 3.61, 3.6, 3.6, 3.6],
    [3.72, 3.72, 3.72, 3.72, 3.7, 3.64, 3.6, 3.62, 3.66, 3.7, 3.74, 3.78, 3.8, 3.82, 3.83, 3.82, 3.82],
]

# ---- Panel D: participant means, velocity
D_VEL_SOLID = [
    [0.1, 0.05, 0.1, 0.0, 0.05, 0.05, -0.1, -0.5, -0.95, -1.1, -0.8, -0.4, -0.05, 0.25, 0.2, 0.1, 0.05, 0.0, 0.05, -0.05, 0.0, 0.05, 0.0, -0.05, 0.0, 0.05, 0.0, 0.05, 0.0],
    [0.05, 0.1, 0.05, 0.1, 0.0, 0.05, -0.1, -0.55, -1.05, -1.2, -0.9, -0.45, -0.05, 0.2, 0.15, 0.1, 0.0, 0.05, -0.05, 0.0, 0.05, 0.0, -0.05, 0.05, 0.0, 0.0, 0.05, 0.0, 0.0],
    [0.1, 0.0, 0.05, 0.1, 0.05, 0.0, -0.15, -0.6, -1.15, -1.3, -0.95, -0.5, -0.1, 0.25, 0.25, 0.1, 0.05, 0.0, 0.05, 0.0, -0.05, 0.0, 0.05, 0.0, 0.05, 0.0, 0.05, 0.0, 0.05],
    [0.0, 0.05, 0.1, 0.05, 0.0, 0.05, -0.15, -0.7, -1.35, -1.5, -1.1, -0.6, -0.15, 0.25, 0.25, 0.15, 0.05, 0.0, -0.05, 0.05, 0.0, 0.0, 0.05, -0.05, 0.0, 0.05, 0.0, 0.05, 0.0],
    [0.05, 0.1, 0.0, 0.05, 0.1, 0.05, -0.2, -0.75, -1.45, -1.6, -1.15, -0.65, -0.2, 0.25, 0.3, 0.15, 0.05, 0.05, 0.0, 0.05, 0.0, 0.05, 0.0, 0.05, 0.0, 0.0, 0.05, 0.0, 0.05],
    [0.1, 0.05, 0.1, 0.0, 0.05, 0.1, -0.2, -0.8, -1.6, -1.75, -1.3, -0.7, -0.2, 0.3, 0.3, 0.15, 0.1, 0.05, 0.0, 0.05, 0.1, 0.0, 0.05, 0.0, 0.05, 0.1, 0.0, 0.05, 0.0],
    [0.05, 0.15, 0.05, 0.1, 0.0, 0.05, -0.2, -0.85, -1.7, -1.85, -1.35, -0.7, -0.1, 0.45, 0.35, 0.2, 0.1, 0.05, 0.1, 0.0, 0.05, 0.1, 0.0, 0.05, 0.1, 0.0, 0.05, 0.1, 0.0],
    [0.1, 0.05, 0.15, 0.1, 0.05, 0.0, -0.2, -0.9, -1.8, -1.95, -1.2, -0.3, 0.45, 0.75, 0.45, 0.2, 0.1, 0.15, 0.25, 0.3, 0.2, 0.0, 0.05, -0.1, 0.05, 0.0, 0.1, -0.2, -0.45],
    [0.05, 0.0, 0.1, 0.05, 0.1, 0.05, -0.2, -1.0, -1.9, -2.1, -1.6, -0.9, -0.2, 0.4, 0.4, 0.2, 0.05, 0.0, 0.05, 0.1, 0.0, 0.05, 0.0, 0.05, 0.1, 0.0, 0.05, 0.0, 0.05],
    [0.0, 0.05, -0.2, 0.1, 0.05, 0.0, -0.25, -1.2, -2.5, -2.8, -2.2, -1.4, -0.5, 0.45, 0.85, 0.2, 0.05, 0.0, 0.05, 0.0, 0.05, 0.0, 0.05, 0.0, -0.05, 0.0, 0.05, -0.25, 0.0],
]
D_VEL_DASHED = [
    [0.05, 0.1, 0.0, 0.05, 0.1, 0.05, 0.0, -0.05, -0.1, -0.15, -0.2, -0.15, -0.05, 0.05, 0.15, 0.1, 0.05, 0.0, 0.05, -0.05, 0.0, 0.05, 0.0, -0.05, 0.0, 0.05, 0.0, 0.05, 0.0],
    [0.1, 0.05, 0.1, 0.0, 0.05, 0.1, 0.05, -0.05, -0.2, -0.35, -0.5, -0.45, -0.25, 0.05, 0.2, 0.1, 0.05, 0.0, -0.05, 0.05, 0.0, 0.0, 0.05, 0.0, -0.05, 0.0, 0.05, 0.0, 0.05],
    [0.05, 0.0, 0.1, 0.05, 0.0, 0.1, 0.1, 0.0, -0.1, -0.2, -0.25, -0.2, -0.05, 0.1, 0.2, 0.15, 0.05, 0.0, -0.1, 0.0, 0.05, 0.0, 0.05, 0.0, 0.05, 0.0, 0.05, 0.0, 0.05],
    [0.1, 0.05, 0.0, 0.1, 0.05, 0.05, 0.15, 0.05, -0.05, -0.15, -0.25, -0.2, -0.1, 0.1, 0.25, 0.15, 0.05, -0.05, 0.0, -0.1, 0.0, 0.05, 0.0, -0.05, 0.0, 0.05, 0.0, 0.05, 0.0],
    [0.0, 0.1, 0.05, 0.1, 0.0, 0.1, 0.15, 0.1, 0.0, -0.1, -0.2, -0.2, -0.05, 0.15, 0.25, 0.1, 0.05, 0.0, 0.05, 0.0, -0.05, 0.05, 0.0, 0.05, 0.0, -0.05, 0.05, 0.0, 0.05],
    [0.05, 0.1, 0.1, 0.0, 0.05, 0.05, 0.05, -0.05, -0.15, -0.2, -0.25, -0.15, 0.0, 0.15, 0.25, 0.15, 0.05, 0.0, 0.05, 0.0, 0.05, 0.1, 0.0, 0.05, 0.0, 0.05, 0.1, 0.0, 0.05],
    [0.1, 0.05, 0.15, 0.05, 0.1, 0.05, 0.0, -0.1, -0.15, -0.25, -0.3, -0.2, -0.05, 0.15, 0.3, 0.2, 0.1, 0.05, 0.1, 0.05, 0.0, 0.05, 0.1, 0.0, 0.05, 0.1, 0.05, 0.0, 0.05],
    [0.05, 0.1, 0.0, 0.1, 0.05, 0.1, 0.05, 0.0, -0.1, -0.2, -0.35, -0.2, 0.05, 0.3, 0.35, 0.2, 0.05, 0.0, 0.1, 0.3, 0.1, 0.0, 0.05, 0.0, -0.1, 0.0, 0.05, 0.0, 0.0],
    [0.1, 0.0, 0.05, 0.0, 0.1, 0.05, 0.05, -0.05, -0.15, -0.2, -0.3, -0.25, -0.05, 0.2, 0.3, 0.15, 0.05, 0.0, 0.0, 0.05, 0.0, 0.05, -0.05, 0.0, 0.05, 0.0, 0.0, 0.05, 0.0],
    [0.0, 0.05, -0.1, 0.1, 0.05, 0.05, 0.0, -0.1, -0.2, -0.3, -0.45, -0.55, -0.2, 0.15, 0.25, 0.15, 0.05, 0.0, 0.05, 0.0, 0.05, 0.0, 0.0, 0.05, 0.0, -0.05, 0.0, 0.0, 0.05],
]

# text
TITLE_LEFT = 'Within Participant Variability'
SUB_LEFT = 'Participant ID = 7 (All Trials)'
TITLE_RIGHT = 'Across Participant Variability'
SUB_RIGHT = 'All Participants (Mean)'
LEG_A = ['lum = 1, \u0394log(lum) = \u22122.08', 'lum = 43, \u0394log(lum) = 1.68']
LEG_C = ['lum = 22, \u0394log(lum) = \u22120.276', 'lum = 36, \u0394log(lum) = 0.216']
BASE_A = 'lum = 8'
BASE_C = 'lum = 29'

# ---------------- geometry (pixels) ----------------
COLS = {'L': (91.0, 718.0), 'R': (764.5, 1309.0)}
ROWS = {'top_d': (47.7, 259.3), 'top_v': (290.7, 501.7),
        'bot_d': (547.3, 759.3), 'bot_v': (800.0, 1011.7)}
X_RANGE = [-1, 5]
DIAM_RANGE = [1, 6]
VEL_RANGE = [-6, 1]
INSET_SRC = dict(x=[0, 1], y=[-1, 1])        # small box
INSET_DST = dict(x=[1, 3], y=[-5.3, -1.3])   # magnified box

AX_COLOR = '#555555'
TICK_FONT = dict(family='Lato, Open Sans, sans-serif', size=17, color='#6b6b6b')
TITLE_FONT = dict(family='Open Sans, sans-serif', size=25, color='#6b6b6b')
XTITLE_FONT = dict(family='Open Sans, sans-serif', size=24, color='#6b6b6b')
TEXT_FONT = dict(family='Lato, sans-serif', size=20, color='#111111')


def px_x(p):
    return p / W


def px_y(p):
    return 1 - p / H


fig = go.Figure()
layout = {}

PANELS = {  # name: (index, column, row, yrange, yticks, show x labels, show y labels)
    'Ad': (1, 'L', 'top_d', DIAM_RANGE, DIAM_TICKS, False, True),
    'Av': (2, 'L', 'top_v', VEL_RANGE, VEL_TICKS, False, True),
    'Bd': (3, 'R', 'top_d', DIAM_RANGE, DIAM_TICKS, False, False),
    'Bv': (4, 'R', 'top_v', VEL_RANGE, VEL_TICKS, False, False),
    'Cd': (5, 'L', 'bot_d', DIAM_RANGE, DIAM_TICKS, False, True),
    'Cv': (6, 'L', 'bot_v', VEL_RANGE, VEL_TICKS, True, True),
    'Dd': (7, 'R', 'bot_d', DIAM_RANGE, DIAM_TICKS, False, False),
    'Dv': (8, 'R', 'bot_v', VEL_RANGE, VEL_TICKS, True, False),
}


def xn(i):
    return 'x' if i == 1 else 'x%d' % i


def yn(i):
    return 'y' if i == 1 else 'y%d' % i


def xk(i):
    return 'xaxis' if i == 1 else 'xaxis%d' % i


def yk(i):
    return 'yaxis' if i == 1 else 'yaxis%d' % i


DOMAINS = {}
for name, (i, col, row, yr, yt, xl, yl) in PANELS.items():
    cx = COLS[col]
    ry = ROWS[row]
    xd = [px_x(cx[0]), px_x(cx[1])]
    yd = [px_y(ry[1]), px_y(ry[0])]
    DOMAINS[name] = (xd, yd, yr)
    common = dict(showline=True, linecolor=AX_COLOR, linewidth=1.5, ticks='outside',
                  ticklen=6, tickwidth=1.5, tickcolor=AX_COLOR, showgrid=False,
                  zeroline=False, tickfont=TICK_FONT, fixedrange=True, automargin=False)
    layout[xk(i)] = dict(domain=xd, range=X_RANGE, tickvals=TIME_TICKS,
                         showticklabels=xl, anchor=yn(i), ticklabelstandoff=-6, **common)
    layout[yk(i)] = dict(domain=yd, range=yr, tickvals=yt,
                         showticklabels=yl, anchor=xn(i), ticklabelstandoff=-1, **common)


def sub_domain(name, xr, yr):
    xd, yd, yrng = DOMAINS[name]
    fx = lambda v: xd[0] + (v - X_RANGE[0]) / (X_RANGE[1] - X_RANGE[0]) * (xd[1] - xd[0])
    fy = lambda v: yd[0] + (v - yrng[0]) / (yrng[1] - yrng[0]) * (yd[1] - yd[0])
    return [fx(xr[0]), fx(xr[1])], [fy(yr[0]), fy(yr[1])]


# inset axes 9 (C) and 10 (D)
for i, parent in [(9, 'Cv'), (10, 'Dv')]:
    xd, yd = sub_domain(parent, INSET_DST['x'], INSET_DST['y'])
    layout[xk(i)] = dict(domain=xd, range=INSET_SRC['x'], visible=False, anchor=yn(i),
                         fixedrange=True, automargin=False)
    layout[yk(i)] = dict(domain=yd, range=INSET_SRC['y'], visible=False, anchor=xn(i),
                         fixedrange=True, automargin=False)

# colour bar axes 11
layout[xk(11)] = dict(domain=[px_x(1120.5), px_x(1322.5)], range=[0.5, 10.5], tickvals=PARTICIPANT_IDS,
                      ticks='inside', ticklen=3, tickwidth=1, tickcolor='#444444', ticklabelstandoff=-4,
                      showline=True, mirror=True, linecolor='#444444', linewidth=1.5,
                      showgrid=False, zeroline=False, anchor=yn(11), fixedrange=True, automargin=False,
                      tickfont=dict(family='Lato, sans-serif', size=13, color='#6b6b6b'))
layout[yk(11)] = dict(domain=[px_y(385.5), px_y(354.5)], range=[-0.5, 0.5], showticklabels=False,
                      ticks='', showline=True, mirror=True, linecolor='#444444', linewidth=1.5,
                      showgrid=False, zeroline=False, anchor=xn(11), fixedrange=True, automargin=False)


def add_lines(i, t, rows, color, width, dash=None):
    for r in rows:
        assert len(r) == len(t), (i, len(r), len(t))
        fig.add_trace(go.Scatter(
            x=t, y=r, mode='lines', xaxis=xn(i), yaxis=yn(i), showlegend=False,
            hoverinfo='skip',
            line=dict(color=color, width=width, dash=dash, shape='spline', smoothing=0.8)))


def add_means(i, t, rows, width, dash=None):
    for k, r in enumerate(rows):
        assert len(r) == len(t), (i, k, len(r), len(t))
        fig.add_trace(go.Scatter(
            x=t, y=r, mode='lines', xaxis=xn(i), yaxis=yn(i), showlegend=False,
            hoverinfo='skip',
            line=dict(color=PARTICIPANT_COLORS[k], width=width, dash=dash,
                      shape='spline', smoothing=0.8)))


DASH = '11px,6px'

# Panel A
add_lines(1, DIAM_T, A_DIAM_BLACK, BLACK, 1.2)
add_lines(1, DIAM_T, A_DIAM_ORANGE, ORANGE, 1.4)
add_lines(2, VEL_T, A_VEL_BLACK, BLACK, 1.1)
add_lines(2, VEL_T, A_VEL_ORANGE, ORANGE, 1.3)
# Panel B
add_means(3, MEAN_T, B_DIAM_SOLID, 2.6)
add_means(3, MEAN_T, B_DIAM_DASHED, 2.6, DASH)
add_means(4, MVEL_T, B_VEL_SOLID, 2.4)
add_means(4, MVEL_T, B_VEL_DASHED, 2.4, DASH)
# Panel C
add_lines(5, DIAM_T, C_DIAM_BLACK, BLACK, 1.2)
add_lines(5, DIAM_T, C_DIAM_ORANGE, ORANGE, 1.3)
add_lines(6, VEL_T, C_VEL_BLACK, BLACK, 1.1)
add_lines(6, VEL_T, C_VEL_ORANGE, ORANGE, 1.2)
add_lines(9, VEL_T, C_VEL_ORANGE, ORANGE, 1.2)
# Panel D
add_means(7, MEAN_T, D_DIAM_SOLID, 2.6)
add_means(7, MEAN_T, D_DIAM_DASHED, 2.6, DASH)
add_means(8, MVEL_T, D_VEL_SOLID, 2.4)
add_means(8, MVEL_T, D_VEL_DASHED, 2.4, DASH)
add_means(10, MVEL_T, D_VEL_DASHED, 2.4, DASH)

# colour bar (heatmap)
cs = []
for k, c in enumerate(PARTICIPANT_COLORS):
    cs.append([k / 10, c])
    cs.append([(k + 1) / 10, c])
fig.add_trace(go.Heatmap(z=[PARTICIPANT_IDS], x=PARTICIPANT_IDS, y=[0], colorscale=cs,
                         zmin=0.5, zmax=10.5, showscale=False, xaxis='x11', yaxis='y11',
                         hoverinfo='skip'))

# ---------------- shapes ----------------
shapes = []
for name, (i, col, row, yr, yt, xl, yl) in PANELS.items():
    shapes.append(dict(type='line', xref=xn(i), yref=yn(i), x0=0, x1=0, y0=yr[0], y1=yr[1],
                       line=dict(color='#222222', width=1.2, dash='dot'), layer='above'))
for name, w, col in [('Av', 1.6, '#111111'), ('Bv', 1.6, '#111111'),
                     ('Cv', 3.2, '#222222'), ('Dv', 3.2, '#222222')]:
    i = PANELS[name][0]
    shapes.append(dict(type='line', xref=xn(i), yref=yn(i), x0=X_RANGE[0], x1=X_RANGE[1], y0=0, y1=0,
                       line=dict(color=col, width=w), layer='above'))
for name, inset in [('Cv', 9), ('Dv', 10)]:
    i = PANELS[name][0]
    shapes.append(dict(type='rect', xref=xn(i), yref=yn(i),
                       x0=INSET_SRC['x'][0], x1=INSET_SRC['x'][1], y0=INSET_SRC['y'][0], y1=INSET_SRC['y'][1],
                       line=dict(color='#333333', width=3), layer='above'))
    shapes.append(dict(type='rect', xref=xn(i), yref=yn(i),
                       x0=INSET_DST['x'][0], x1=INSET_DST['x'][1], y0=INSET_DST['y'][0], y1=INSET_DST['y'][1],
                       line=dict(color='#333333', width=3), layer='above'))
    shapes.append(dict(type='line', xref=xn(inset), yref=yn(inset), x0=0, x1=1, y0=0, y1=0,
                       line=dict(color='#222222', width=3), layer='above'))


def legend_line(x0, x1, y, color, dash=None):
    shapes.append(dict(type='line', xref='paper', yref='paper', x0=px_x(x0), x1=px_x(x1),
                       y0=px_y(y), y1=px_y(y), line=dict(color=color, width=3, dash=dash)))


legend_line(224, 300, 463, ORANGE)
legend_line(224, 300, 491, BLACK)
legend_line(224, 300, 585, ORANGE)
legend_line(224, 300, 613, BLACK)
legend_line(916, 990, 450, '#222222', '13px,7px')
legend_line(913, 990, 477, '#222222')
legend_line(916, 990, 586, '#222222', '13px,7px')
legend_line(913, 990, 614, '#222222')

# figure frame
shapes.append(dict(type='rect', xref='paper', yref='paper', x0=px_x(8), x1=1.02, y0=-0.02, y1=px_y(12),
                   line=dict(color='#111111', width=2.5)))

# ---------------- annotations ----------------
ann = []


def text(x, y, s, font, xanchor='left', angle=0):
    ann.append(dict(x=px_x(x), y=px_y(y), xref='paper', yref='paper', text=s, showarrow=False,
                    xanchor=xanchor, yanchor='middle', font=font, textangle=angle))


LETTER_FONT = dict(family='Liberation Sans, Arial, sans-serif', size=26, color='#000000')
text(39, 44, 'A', LETTER_FONT, 'center')
text(740, 44, 'B', LETTER_FONT, 'center')
text(39, 543, 'C', LETTER_FONT, 'center')
text(740, 543, 'D', LETTER_FONT, 'center')

HEAD_FONT = dict(family='Lato, sans-serif', size=25, color='#111111')
SUB_FONT = dict(family='Lato, sans-serif', size=12.5, color='#666666')
text(417, 49, TITLE_LEFT, HEAD_FONT, 'center')
text(417, 71, SUB_LEFT, SUB_FONT, 'center')
text(1047, 48, TITLE_RIGHT, HEAD_FONT, 'center')
text(1047, 71, SUB_RIGHT, SUB_FONT, 'center')

text(49, 152, 'Diameter (mm)', TITLE_FONT, 'center', -90)
text(43, 398, 'Velocity (mm/sec)', TITLE_FONT, 'center', -90)
text(49, 654, 'Diameter (mm)', TITLE_FONT, 'center', -90)
text(43, 907, 'Velocity (mm/sec)', TITLE_FONT, 'center', -90)
text(406, 1052, 'Time (sec)', XTITLE_FONT, 'center')
text(1037, 1052, 'Time (sec)', XTITLE_FONT, 'center')

text(313, 463, LEG_A[0], TEXT_FONT)
text(313, 491, LEG_A[1], TEXT_FONT)
text(112, 479, BASE_A, TEXT_FONT)
text(1000, 450, LEG_A[0], TEXT_FONT)
text(1000, 477, LEG_A[1], TEXT_FONT)
text(775, 450, BASE_A, TEXT_FONT)
text(313, 585, LEG_C[0], TEXT_FONT)
text(313, 613, LEG_C[1], TEXT_FONT)
text(112, 600, BASE_C, TEXT_FONT)
text(1003, 586, LEG_C[0], TEXT_FONT)
text(1003, 614, LEG_C[1], TEXT_FONT)
text(771, 600, BASE_C, TEXT_FONT)

text(1222, 410, 'Participant ID', dict(family='Lato, sans-serif', size=14, color='#6b6b6b'), 'center')

layout.update(dict(template='none', width=W, height=H,
                   margin=dict(l=0, r=0, t=0, b=0, pad=0, autoexpand=False),
                   paper_bgcolor='white', plot_bgcolor='rgba(0,0,0,0)',
                   showlegend=False, shapes=shapes, annotations=ann))
fig.update_layout(**layout)
fig.write_html('out.html', config={'displayModeBar': False})
